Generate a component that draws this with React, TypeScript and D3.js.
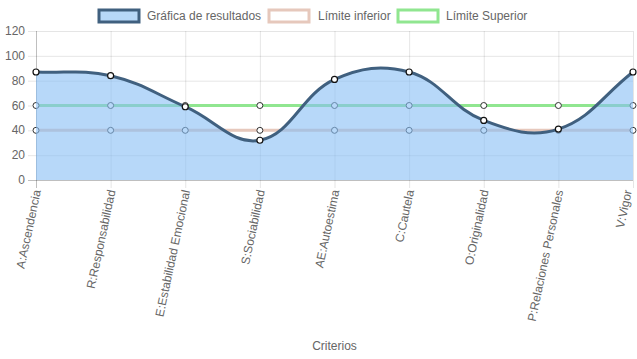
import React from "react";
import * as d3 from "d3";

const categories = [
  "A:Ascendencia",
  "R:Responsabilidad",
  "E:Estabilidad Emocional",
  "S:Sociabilidad",
  "AE:Autoestima",
  "C:Cautela",
  "O:Originalidad",
  "P:Relaciones Personales",
  "V:Vigor",
];
const resultados = [87, 84, 59, 32, 81, 87, 48, 41, 87];
const limiteInferior = [40, 40, 40, 40, 40, 40, 40, 40, 40];
const limiteSuperior = [60, 60, 60, 60, 60, 60, 60, 60, 60];
const yTicks = [0, 20, 40, 60, 80, 100, 120];
const legendLabels = ["Gráfica de resultados", "Límite inferior", "Límite Superior"];

const W = 637;
const H = 359;
const left = 36;
const right = 633;
const top = 31;
const bottom = 180;
const FONT = "'Liberation Sans', Arial, Helvetica, sans-serif";
const GREY = "#666";

const x = d3.scalePoint<string>().domain(categories).range([left, right]);
const y = d3.scaleLinear().domain([0, 120]).range([bottom, top]);

type P = { x: number; y: number };

// Chart.js-like spline (tension 0.4)
function splinePath(pts: P[], tension = 0.4, close?: number): string {
  const p = d3.path();
  const cps = pts.map((cur, i) => {
    const prev = pts[i - 1] || cur;
    const next = pts[i + 1] || cur;
    const d01 = Math.hypot(cur.x - prev.x, cur.y - prev.y);
    const d12 = Math.hypot(next.x - cur.x, next.y - cur.y);
    let s01 = d01 / (d01 + d12);
    let s12 = d12 / (d01 + d12);
    s01 = isNaN(s01) ? 0 : s01;
    s12 = isNaN(s12) ? 0 : s12;
    const fa = tension * s01;
    const fb = tension * s12;
    const clampX = (v: number) => Math.max(left, Math.min(right, v));
    const clampY = (v: number) => Math.max(top, Math.min(bottom, v));
    return {
      prev: { x: clampX(cur.x - fa * (next.x - prev.x)), y: clampY(cur.y - fa * (next.y - prev.y)) },
      next: { x: clampX(cur.x + fb * (next.x - prev.x)), y: clampY(cur.y + fb * (next.y - prev.y)) },
    };
  });
  pts.forEach((pt, i) => {
    if (i === 0) p.moveTo(pt.x, pt.y);
    else {
      const a = cps[i - 1].next;
      const b = cps[i].prev;
      p.bezierCurveTo(a.x, a.y, b.x, b.y, pt.x, pt.y);
    }
  });
  if (close !== undefined) {
    p.lineTo(pts[pts.length - 1].x, close);
    p.lineTo(pts[0].x, close);
    p.closePath();
  }
  return p.toString();
}

const toPts = (vals: number[]) => vals.map((v, i) => ({ x: x(categories[i])!, y: y(v) }));

const series = [
  { label: legendLabels[2], values: limiteSuperior, stroke: "#90e690", fill: "#ffffff", width: 3 },
  { label: legendLabels[1], values: limiteInferior, stroke: "#e6c8bc", fill: "#ffffff", width: 3 },
];

export default function App() {
  const resPts = toPts(resultados);
  const legendBoxes = [
    { x: 99, stroke: "#40607f", fill: "#b7d8f8", tx: 147, label: legendLabels[0] },
    { x: 269, stroke: "#e6c8bc", fill: "#ffffff", tx: 318, label: legendLabels[1] },
    { x: 398, stroke: "#90e690", fill: "#ffffff", tx: 446, label: legendLabels[2] },
  ];
  return (
    <svg
      width={W}
      height={H}
      style={{ position: "absolute", left: 0, top: 0, background: "#fff" }}
      fontFamily={FONT}
    >
      {/* legend */}
      {legendBoxes.map((b, i) => (
        <g key={i}>
          <rect x={b.x} y={10} width={40} height={12} fill={b.fill} stroke={b.stroke} strokeWidth={3} />
          <text x={b.tx} y={16} dominantBaseline="central" fontSize={12} fill={GREY}>
            {b.label}
          </text>
        </g>
      ))}
      {/* grid horizontal */}
      {yTicks.map((t) => (
        <g key={t}>
          <line
            x1={left - 8}
            x2={right}
            y1={y(t) + 0.5}
            y2={y(t) + 0.5}
            stroke={t === 0 ? "rgba(0,0,0,0.25)" : "rgba(0,0,0,0.1)"}
          />
          <text x={25} y={y(t)} textAnchor="end" dominantBaseline="central" fontSize={12} fill={GREY}>
            {t}
          </text>
        </g>
      ))}
      {/* grid vertical */}
      {categories.map((c, i) => (
        <line
          key={c}
          x1={x(c)! + 0.5}
          x2={x(c)! + 0.5}
          y1={top}
          y2={bottom + 8}
          stroke={i === 0 ? "rgba(0,0,0,0.25)" : "rgba(0,0,0,0.1)"}
        />
      ))}
      {/* x labels */}
      {categories.map((c) => (
        <text
          key={c}
          transform={`translate(${Math.min(x(c)! + 1, W - 9)},${bottom + 10}) rotate(-78)`}
          textAnchor="end"
          dominantBaseline="central"
          fontSize={12}
          fill={GREY}
        >
          {c}
        </text>
      ))}
      <text x={(left + right) / 2} y={346} textAnchor="middle" dominantBaseline="central" fontSize={12} fill={GREY}>
        Criterios
      </text>
      {/* limit series */}
      {series.map((s) => {
        const pts = toPts(s.values);
        return (
          <g key={s.label}>
            <path d={splinePath(pts)} fill="none" stroke={s.stroke} strokeWidth={s.width} />
            {pts.map((p, i) => (
              <circle key={i} cx={p.x} cy={p.y} r={3} fill="#fff" stroke="#333" strokeWidth={1} />
            ))}
          </g>
        );
      })}
      {/* results */}
      <path d={splinePath(resPts, 0.4, y(0))} fill="rgba(135,190,245,0.6)" stroke="none" />
      <path d={splinePath(resPts)} fill="none" stroke="#40607f" strokeWidth={3} />
      {resPts.map((p, i) => (
        <circle key={i} cx={p.x} cy={p.y} r={3} fill="#fff" stroke="#111" strokeWidth={1.2} />
      ))}
    </svg>
  );
}
